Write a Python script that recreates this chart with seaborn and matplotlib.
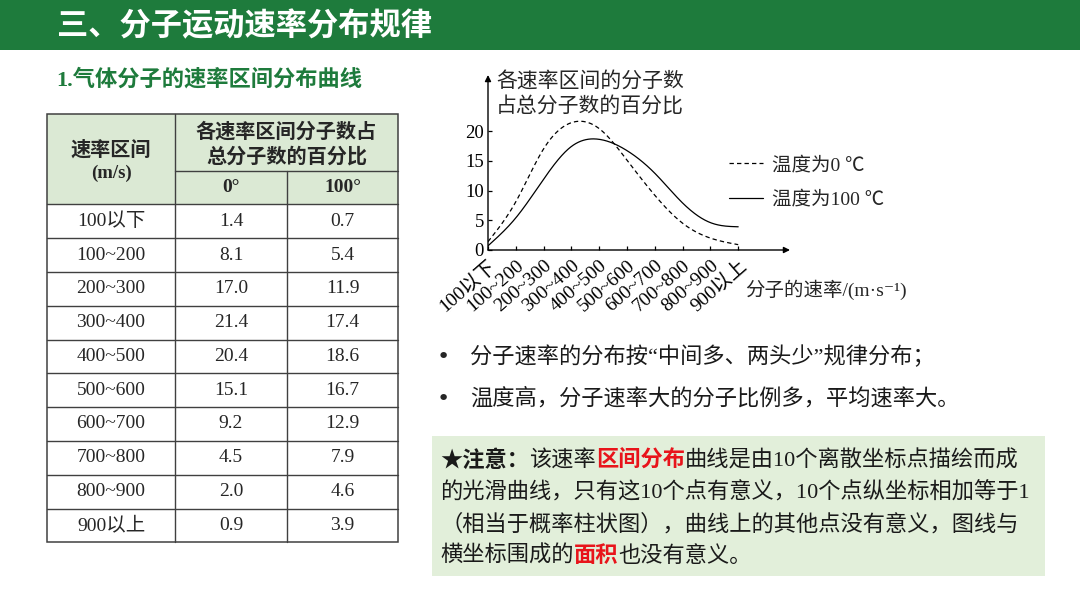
import numpy as np
import matplotlib
matplotlib.use('Agg')
import matplotlib.pyplot as plt
from matplotlib.patches import Rectangle
import seaborn as sns

# ---- chart / table data ----
speed_bins = ['100以下', '100~200', '200~300', '300~400', '400~500',
              '500~600', '600~700', '700~800', '800~900', '900以上']
pct_0c = [1.4, 8.1, 17.0, 21.4, 20.4, 15.1, 9.2, 4.5, 2.0, 0.9]
pct_100c = [0.7, 5.4, 11.9, 17.4, 18.6, 16.7, 12.9, 7.9, 4.6, 3.9]
y_ticks = [0, 5, 10, 15, 20]
legend_labels = ['温度为0 ℃', '温度为100 ℃']

title = '三、分子运动速率分布规律'
subtitle = '1.气体分子的速率区间分布曲线'
table_head_left = ['速率区间', '(m/s)']
table_head_right = ['各速率区间分子数占', '总分子数的百分比']
table_temps = ['0°', '100°']
ylabel_lines = ['各速率区间的分子数', '占总分子数的百分比']
xlabel = '分子的速率/(m·s⁻¹)'
bullets = ['分子速率的分布按“中间多、两头少”规律分布；',
           '温度高，分子速率大的分子比例多，平均速率大。']
RED = '#e8141b'
note_lines = [
    [('★注意：', 'k', 'bold'), ('该速率', 'k', 'normal'), ('区间分布', RED, 'bold'),
     ('曲线是由10个离散坐标点描绘而成', 'k', 'normal')],
    [('的光滑曲线，只有这10个点有意义，10个点纵坐标相加等于1', 'k', 'normal')],
    [('（相当于概率柱状图），曲线上的其他点没有意义，图线与', 'k', 'normal')],
    [('横坐标围成的', 'k', 'normal'), ('面积', RED, 'bold'), ('也没有意义。', 'k', 'normal')],
]

GREEN = '#1e7b3c'
CJK = 'Noto Sans CJK SC'
SERIF_CJK = ['Liberation Serif', 'Noto Sans CJK SC', 'DejaVu Sans']

sns.set_theme(style='white')
plt.rcParams['font.family'] = [CJK, 'DejaVu Sans']


def natural_spline(y, n=300):
    # smooth curve through the 10 points, like the textbook drawing
    y = np.asarray(y, float)
    N = len(y)
    A = np.zeros((N, N))
    b = np.zeros(N)
    A[0, 0] = A[-1, -1] = 1
    for i in range(1, N - 1):
        A[i, i - 1], A[i, i], A[i, i + 1] = 1, 4, 1
        b[i] = 3 * (y[i + 1] - 2 * y[i] + y[i - 1])
    c = np.linalg.solve(A, b)
    bb = (y[1:] - y[:-1]) - (2 * c[:-1] + c[1:]) / 3
    d = (c[1:] - c[:-1]) / 3
    xs = np.linspace(0, N - 1, n)
    idx = np.minimum(xs.astype(int), N - 2)
    t = xs - idx
    ys = y[idx] + bb[idx] * t + c[idx] * t ** 2 + d[idx] * t ** 3
    return xs, ys


fig = plt.figure(figsize=(10.8, 6.08), dpi=100)
ov = fig.add_axes([0, 0, 1, 1])
ov.set_xlim(0, 1080)
ov.set_ylim(608, 0)
ov.axis('off')

# header band
ov.add_patch(Rectangle((0, 0), 1080, 50, color=GREEN, lw=0))
ov.text(57, 26, title, color='white', fontsize=22.5, fontweight='bold', va='center', ha='left')
ov.text(56, 80, subtitle, color=GREEN, fontsize=16, fontweight='bold', va='center', ha='left',
        family=SERIF_CJK)

# ---- table ----
col_x = [47, 175, 287, 398]
top, mid, head_bot, row_h = 114, 171, 204.3, 33.8
bottom = head_bot + row_h * len(speed_bins)
lc = '#404040'
ov.add_patch(Rectangle((col_x[0], top), col_x[3] - col_x[0], head_bot - top, color='#dbe9d4', lw=0))
ov.add_patch(Rectangle((col_x[0], top), col_x[3] - col_x[0], bottom - top, fill=False, ec=lc, lw=1.1))
ov.plot([col_x[1], col_x[1]], [top, bottom], color=lc, lw=1)
ov.plot([col_x[2], col_x[2]], [mid, bottom], color=lc, lw=1)
ov.plot([col_x[1], col_x[3]], [mid, mid], color=lc, lw=1)
for k in range(len(speed_bins)):
    yy = head_bot + row_h * k
    ov.plot([col_x[0], col_x[3]], [yy, yy], color=lc, lw=1)

cx = [(col_x[i] + col_x[i + 1]) / 2 for i in range(3)]
ov.text(cx[0], 149, table_head_left[0], fontsize=14.5, fontweight='bold', ha='center', va='center')
ov.text(cx[0], 173, table_head_left[1], fontsize=13.5, fontweight='bold', ha='center', va='center',
        family=SERIF_CJK)
ov.text((col_x[1] + col_x[3]) / 2, 131, table_head_right[0], fontsize=14.5, fontweight='bold',
        ha='center', va='center')
ov.text((col_x[1] + col_x[3]) / 2, 156, table_head_right[1], fontsize=14.5, fontweight='bold',
        ha='center', va='center')
for j, lab in enumerate(table_temps):
    ov.text(cx[j + 1], 188, lab, fontsize=14, fontweight='bold', ha='center', va='center',
            family=SERIF_CJK)
for k, lab in enumerate(speed_bins):
    yy = head_bot + row_h * (k + 0.5)
    ov.text(cx[0], yy, lab, fontsize=14, ha='center', va='center', family=SERIF_CJK)
    ov.text(cx[1], yy, f'{pct_0c[k]:.1f}', fontsize=14, ha='center', va='center', family=SERIF_CJK)
    ov.text(cx[2], yy, f'{pct_100c[k]:.1f}', fontsize=14, ha='center', va='center', family=SERIF_CJK)

# ---- distribution chart ----
x0, x1, yb, yt = 488, 790, 250, 75
ax = fig.add_axes([x0 / 1080, (608 - yb) / 608, (x1 - x0) / 1080, (yb - yt) / 608])
ax.set_facecolor('none')
xs, ys0 = natural_spline(pct_0c)
_, ys100 = natural_spline(pct_100c)
sns.lineplot(x=xs, y=ys0, ax=ax, color='black', lw=0.9, linestyle=(0, (3.5, 2.5)),
             estimator=None, sort=False, label=legend_labels[0])
sns.lineplot(x=xs, y=ys100, ax=ax, color='black', lw=0.9,
             estimator=None, sort=False, label=legend_labels[1])
ax.set_xlim(0, (x1 - x0) / 27.8)
ax.set_ylim(0, (yb - yt) / 29.75 * 5)
for s in ax.spines.values():
    s.set_visible(False)
ax.annotate('', xy=(1, 0), xytext=(0, 0), xycoords='axes fraction',
            arrowprops=dict(arrowstyle='-|>', color='black', lw=1, mutation_scale=9,
                            shrinkA=0, shrinkB=0))
ax.annotate('', xy=(0, 1), xytext=(0, 0), xycoords='axes fraction',
            arrowprops=dict(arrowstyle='-|>', color='black', lw=1, mutation_scale=9,
                            shrinkA=0, shrinkB=0))
ax.set_xticks(range(len(speed_bins)))
ax.set_xticklabels(speed_bins, rotation=41, ha='right', va='top', rotation_mode='anchor',
                   family=SERIF_CJK, fontsize=14)
ax.set_yticks(y_ticks)
ax.set_yticklabels([str(v) for v in y_ticks], family=SERIF_CJK, fontsize=13.5)
ax.tick_params(axis='both', direction='in', length=3, width=0.9, color='black', pad=3,
               labelcolor='black', bottom=True, left=True)
ax.tick_params(axis='x', pad=5)
ax.grid(False)
ax.legend(loc='upper left', bbox_to_anchor=(729 / 1080, 1 - 156 / 608),
          bbox_transform=fig.transFigure, frameon=False,
          prop={'family': SERIF_CJK, 'size': 14}, handlelength=1.75,
          handletextpad=0.45, labelspacing=0.85, borderpad=0, borderaxespad=0)

ov.text(496, 81, ylabel_lines[0], fontsize=15, ha='left', va='center')
ov.text(496, 106, ylabel_lines[1], fontsize=15, ha='left', va='center')
ov.text(745, 290, xlabel, fontsize=14, ha='left', va='center', family=SERIF_CJK)

# ---- bullets ----
for k, b in enumerate(bullets):
    yy = 357 + 42 * k
    ov.text(443, yy, '•', fontsize=16, ha='center', va='center', family=['DejaVu Sans'])
    ov.text(470, yy, b, fontsize=16, ha='left', va='center', color='#1a1a1a', family=SERIF_CJK)

# ---- note box ----
ov.add_patch(Rectangle((432, 436), 613, 140, color='#e2efda', lw=0))
fig.canvas.draw()
renderer = fig.canvas.get_renderer()
for k, runs in enumerate(note_lines):
    xx = 440
    yy = 461 + 31.7 * k
    for txt, col, wt in runs:
        t = ov.text(xx, yy, txt, fontsize=16, color=col, fontweight=wt, ha='left',
                    va='center', family=SERIF_CJK)
        xx += t.get_window_extent(renderer).width

fig.savefig('out.png', dpi=100)
